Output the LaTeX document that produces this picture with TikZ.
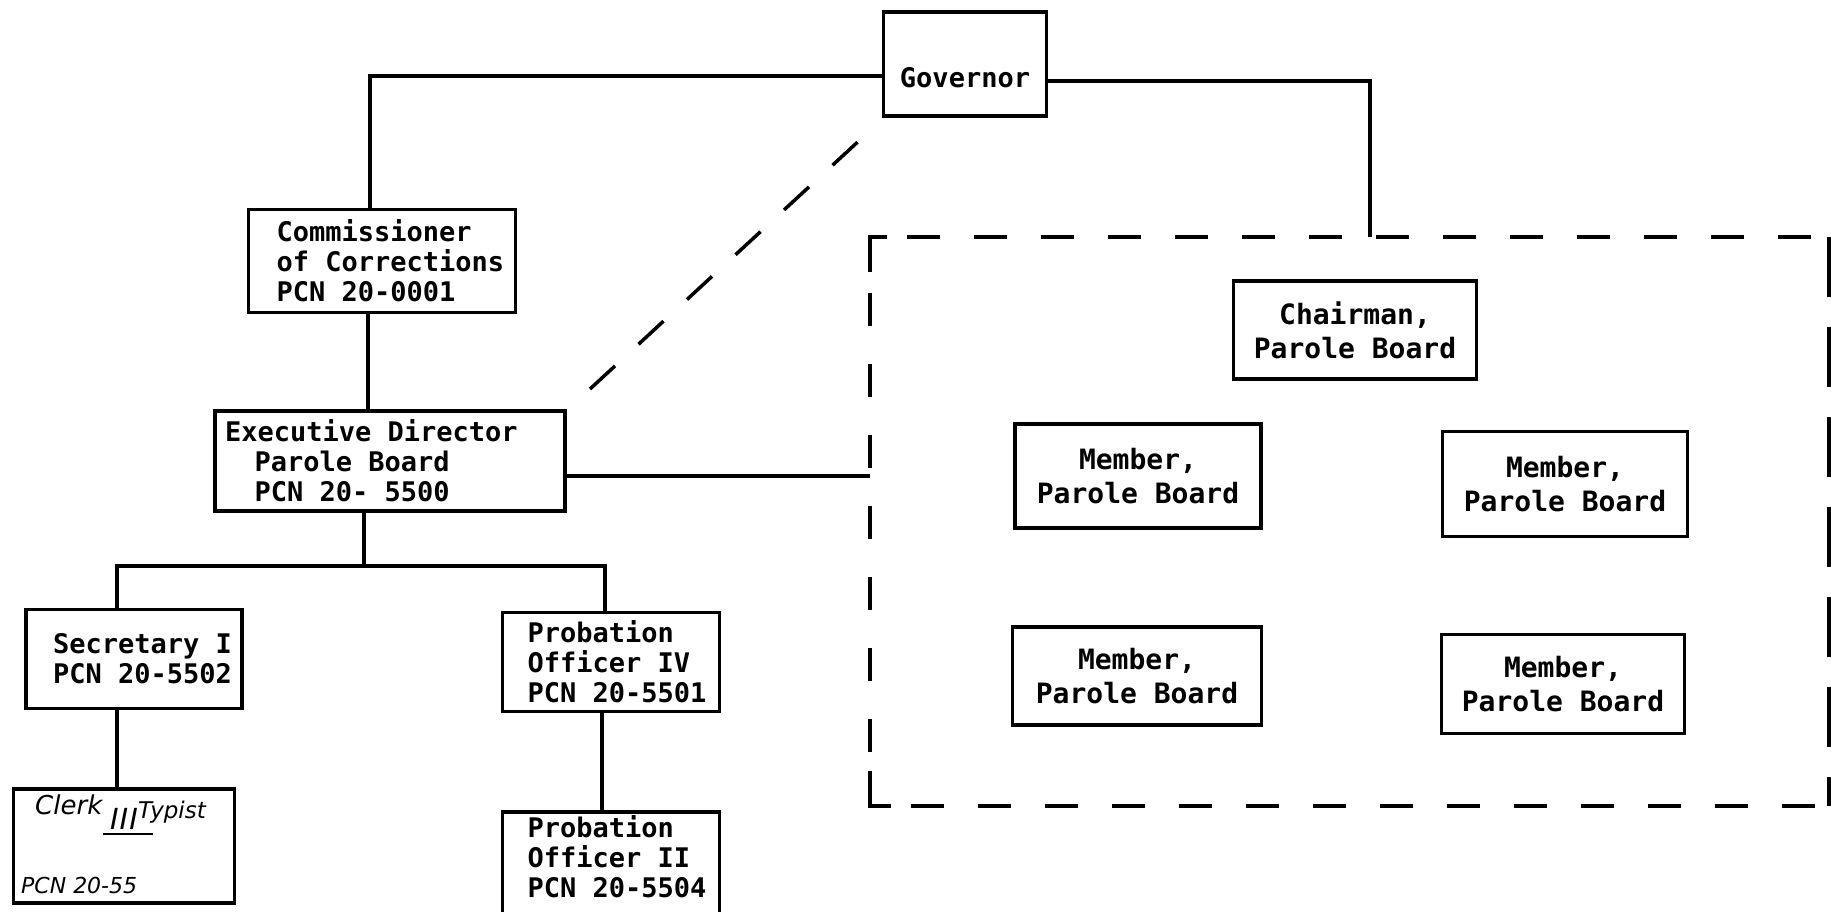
\documentclass[tikz,border=0pt]{standalone}
\usepackage{fontspec}
\setmonofont{DejaVu Sans Mono}
\newfontfamily\handfont{DejaVu Sans}
\newcommand\msp{\hspace*{0.602em}}
\begin{document}
\begin{tikzpicture}[x=1pt,y=-1pt,
  lw/.style={line width=3.5pt},
  txt/.style={font=\ttfamily\bfseries\fontsize{27}{30}\selectfont, inner sep=0pt},
  btxt/.style={font=\ttfamily\bfseries\fontsize{28}{34}\selectfont, inner sep=0pt},
  box/.style={draw, lw, txt, inner ysep=0pt},
  bbox/.style={draw, lw, btxt, inner ysep=0pt, align=center},
  conn/.style={draw, lw},
  dashline/.style={draw, lw, dash pattern=on 33pt off 34pt},
  hand/.style={font=\handfont\itshape\fontsize{26}{28}\selectfont, inner sep=0pt}]
\useasboundingbox (0,0) rectangle (1831,911);
\fill[white] (0,0) rectangle (1831,911);

% boxes
\node[box, minimum width=163pt, minimum height=104pt] (gov) at (965,64) {};
\node[txt] (govt) at (965,78) {Governor};
\node[box, inner xsep=28pt, text width=211pt, minimum height=103pt, align=left] (comm) at (382,261)
  {Commissioner\\of\msp Corrections\\PCN\msp 20-0001};
\node[box, inner xsep=10pt, text width=330pt, minimum height=100pt, align=left] (exec) at (390,461)
  {Executive\msp Director\\\hspace*{1.1em}Parole\msp Board\\\hspace*{1.1em}PCN\msp 20-\msp 5500};
\node[box, inner xsep=27pt, text width=162pt, minimum height=99pt, align=left] (sec) at (134,659)
  {Secretary\msp I\\PCN\msp 20-5502};
\node[box, inner xsep=25pt, text width=167pt, minimum height=99pt, align=left] (p4) at (611,662)
  {Probation\\Officer\msp IV\\PCN\msp 20-5501};
\node[box, minimum width=217pt, minimum height=118pt] (p2) at (611,871) {};
\node[txt, text width=167pt, align=left] (p2t) at (611,857) {Probation\\Officer\msp II\\PCN\msp 20-5504};
\node[box, minimum width=221pt, minimum height=114pt] (clerk) at (124,846) {};
\node[hand, anchor=base west] (ck1) at (35,814) {Clerk};
\node[hand, anchor=base west, font=\handfont\itshape\fontsize{23}{24}\selectfont] (ck2) at (138,818) {Typist};
\node[hand, anchor=base west, font=\handfont\itshape\fontsize{29}{30}\selectfont] (ck3) at (110,829) {I\kern1pt I\kern1pt I};
\draw[line width=2.4pt] (ck3.base west) ++(-7,5) -- ++(50,0);
\node[hand, anchor=base west, font=\handfont\itshape\fontsize{22}{24}\selectfont] (ck4) at (21,893) {PCN 20-55};

% parole board (dashed frame)
\node[minimum width=959pt, minimum height=569pt, inner sep=0pt] (board) at (1349.5,521.5) {};
\draw[lw] (board.north west) ++(0,35) -- (board.north west) -- ++(17,0);
\draw[lw] (board.south west) ++(0,-35) -- (board.south west) -- ++(21,0);
\draw[dashline] ([xshift=37pt]board.north west) -- (board.north east);
\draw[dashline] ([xshift=41pt]board.south west) -- (board.south east);
\draw[lw, dash pattern=on 33pt off 38pt] ([yshift=-56pt]board.north west) -- ([yshift=40pt]board.south west);
\draw[lw, dash pattern=on 60pt off 30pt] (board.north east) -- (board.south east);
\node[bbox, minimum width=243pt, minimum height=98pt] (chair) at (1355,330) {Chairman,\\Parole\msp Board};
\node[bbox, minimum width=246pt, minimum height=104pt] (m1) at (1138,476) {Member,\\Parole\msp Board};
\node[bbox, minimum width=245pt, minimum height=105pt] (m2) at (1565,484) {Member,\\Parole\msp Board};
\node[bbox, minimum width=249pt, minimum height=98pt] (m3) at (1137,676) {Member,\\Parole\msp Board};
\node[bbox, minimum width=243pt, minimum height=99pt] (m4) at (1563,684) {Member,\\Parole\msp Board};

% connector bend points
\coordinate (c1) at (370,76);
\coordinate (c2) at (368,0);
\coordinate (c3) at (0,476);
\coordinate (jn) at (364,566);
\coordinate (h1) at (117,566);
\coordinate (h2) at (605,566);
\coordinate (c6) at (602,0);
\coordinate (g1) at (1370,81);
\coordinate (d1) at (590,389);
\coordinate (d2) at (862,138);

% connectors
\draw[conn] (gov.west |- c1) -| (comm.north -| c1);
\draw[conn] (comm.south -| c2) -- (exec.north -| c2);
\draw[conn] (exec.east |- c3) -- (board.west |- c3);
\draw[conn] (exec.south -| jn) -- (jn);
\draw[conn] (sec.north -| h1) -- (h1) -- (h2) -- (p4.north -| h2);
\draw[conn] (sec.south -| h1) -- (clerk.north -| h1);
\draw[conn] (p4.south -| c6) -- (p2.north -| c6);
\draw[conn] (gov.east |- g1) -- (g1) -- (board.north -| g1);
\draw[lw, dash pattern=on 34pt off 32pt] (d1) -- (d2);
\end{tikzpicture}
\end{document}
